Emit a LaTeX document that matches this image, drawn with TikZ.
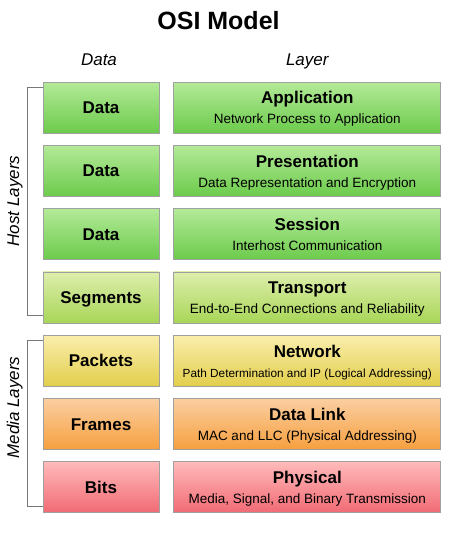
\documentclass[tikz,border=0pt]{standalone}
\usepackage{fontspec}
\setmainfont{Liberation Sans}
\usepackage{tikz}
\usetikzlibrary{positioning}
\usepackage{color}

\definecolor{boxline}{RGB}{160,160,160}
\definecolor{bracketline}{RGB}{120,120,120}
\definecolor{greentop}{RGB}{180,234,152}
\definecolor{greenbot}{RGB}{108,203,76}
\definecolor{limetop}{RGB}{222,238,172}
\definecolor{limebot}{RGB}{168,214,88}
\definecolor{yellowtop}{RGB}{250,238,172}
\definecolor{yellowbot}{RGB}{226,206,76}
\definecolor{orangetop}{RGB}{251,206,162}
\definecolor{orangebot}{RGB}{246,160,62}
\definecolor{redtop}{RGB}{255,186,186}
\definecolor{redbot}{RGB}{241,106,116}

\newcommand{\layertext}[3][13.5]{{\bfseries\fontsize{17}{20}\selectfont #2}\\{\fontsize{#1}{20}\selectfont #3}}

\begin{document}
\begin{tikzpicture}
    [x=1pt,y=1pt,
layerbox/.style={rectangle, draw=boxline, line width=0.8pt, minimum height=51pt, inner sep=0pt},
databox/.style={layerbox, minimum width=116pt, text height=12.2pt, text depth=0pt, font=\bfseries\fontsize{17}{20}\selectfont},
namebox/.style={layerbox, minimum width=267pt, align=center, text height=35pt, text depth=2.4pt, font=\fontsize{13.5}{20}\selectfont},
greenrow/.style={top color=greentop, bottom color=greenbot},
limerow/.style={top color=limetop, bottom color=limebot},
yellowrow/.style={top color=yellowtop, bottom color=yellowbot},
orangerow/.style={top color=orangetop, bottom color=orangebot},
redrow/.style={top color=redtop, bottom color=redbot},
header/.style={anchor=base, font=\itshape\fontsize{17}{20}\selectfont},
bracket/.style={draw=bracketline, line width=0.8pt},
node distance=11.5pt and 14pt
]
\useasboundingbox (0,0) rectangle (464,-543);

\node[anchor=base, font=\bfseries\fontsize{25}{30}\selectfont](title) at (218.5,-29.3) {OSI Model};

% data column
\node[databox,greenrow](d1) at (101,-107.5) {Data};
\node[databox,greenrow](d2)[below=of d1]{Data};
\node[databox,greenrow](d3)[below=of d2]{Data};
\node[databox,limerow](d4)[below=of d3]{Segments};
\node[databox,yellowrow](d5)[below=of d4]{Packets};
\node[databox,orangerow](d6)[below=of d5]{Frames};
\node[databox,redrow](d7)[below=of d6]{Bits};

% layer column
\node[namebox,greenrow](l1)[right=of d1]{\layertext{Application}{Network Process to Application}};
\node[namebox,greenrow](l2)[right=of d2]{\layertext{Presentation}{Data Representation and Encryption}};
\node[namebox,greenrow](l3)[right=of d3]{\layertext{Session}{Interhost Communication}};
\node[namebox,limerow](l4)[right=of d4]{\layertext{Transport}{End-to-End Connections and Reliability}};
\node[namebox,yellowrow](l5)[right=of d5]{\layertext[11.8]{Network}{Path Determination and IP (Logical Addressing)}};
\node[namebox,orangerow](l6)[right=of d6]{\layertext{Data Link}{MAC and LLC (Physical Addressing)}};
\node[namebox,redrow](l7)[right=of d7]{\layertext{Physical}{Media, Signal, and Binary Transmission}};

\node[header](datahead) at ([xshift=-2pt,yshift=16pt]d1.north) {Data};
\node[header](layerhead) at ([yshift=16pt]l1.north) {Layer};

% brackets
\draw[bracket] ([yshift=-5.5pt]d1.north west) -- ++(-15,0) |- ([yshift=7.5pt]d4.south west);
\draw[bracket] ([yshift=-6pt]d5.north west) -- ++(-15,0) |- ([yshift=6.5pt]d7.south west);
\node[header, rotate=90](host) at (19,-201) {Host Layers};
\node[header, rotate=90](media) at (19,-407.5) {Media Layers};
\end{tikzpicture}
\end{document}
